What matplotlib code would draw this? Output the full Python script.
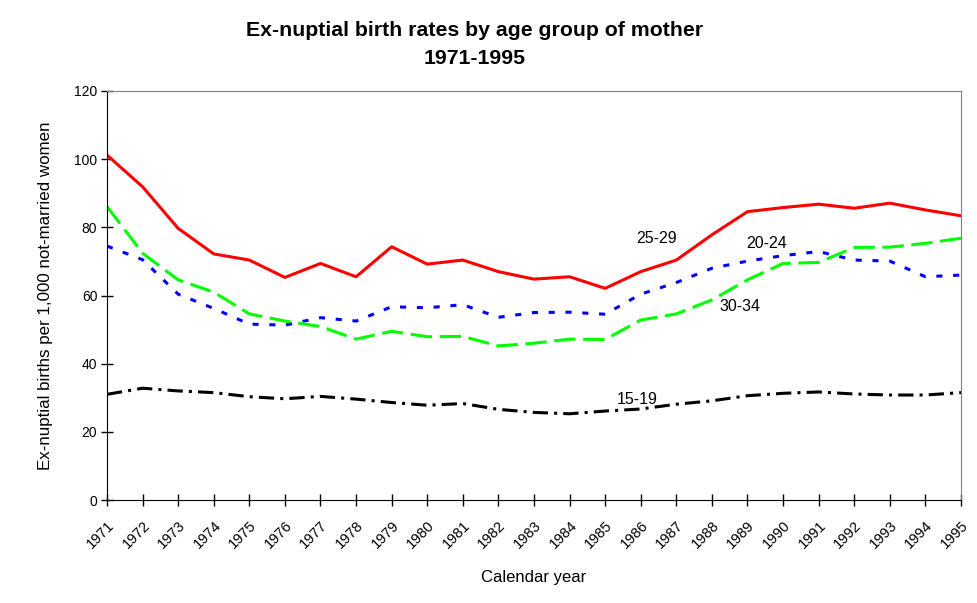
import matplotlib
matplotlib.use("Agg")
import matplotlib.pyplot as plt

plt.rcParams['font.family'] = ['Liberation Sans', 'DejaVu Sans']

years = list(range(1971, 1996))
age_15_19 = [31.0, 32.8, 32.0, 31.5, 30.3, 29.7, 30.4, 29.6, 28.6, 27.8, 28.3, 26.6, 25.7,
             25.3, 26.1, 26.7, 28.1, 29.1, 30.6, 31.3, 31.7, 31.1, 30.8, 30.8, 31.5]
age_20_24 = [74.5, 70.5, 60.4, 56.2, 51.6, 51.3, 53.5, 52.5, 56.7, 56.4, 57.3, 53.6, 55.0,
             55.1, 54.5, 60.4, 63.8, 68.0, 70.1, 71.7, 72.9, 70.4, 70.1, 65.5, 66.0]
age_25_29 = [101.2, 91.9, 79.7, 72.2, 70.4, 65.3, 69.4, 65.5, 74.3, 69.2, 70.4, 67.0, 64.8,
             65.5, 62.1, 67.0, 70.4, 77.8, 84.6, 85.8, 86.8, 85.6, 87.1, 85.1, 83.4]
age_30_34 = [86.1, 72.4, 64.6, 61.0, 54.6, 52.5, 50.9, 47.2, 49.5, 47.9, 48.0, 45.2, 46.0,
             47.2, 47.1, 52.8, 54.6, 58.7, 64.6, 69.4, 69.7, 74.1, 74.2, 75.3, 76.8]
year_labels = [str(y) for y in years]
yticks = [0, 20, 40, 60, 80, 100, 120]

fig = plt.figure(figsize=(9.77, 6.03), dpi=100)
ax = fig.add_axes([107/977, 103/603, (961-107)/977, (500-91)/603])

ax.plot(years, age_15_19, color='black', lw=2.2, linestyle=(0, (5, 2, 1, 2)))
ax.plot(years, age_20_24, color='#0000FF', lw=2.2, linestyle=(0, (2, 3.5)))
ax.plot(years, age_25_29, color='#FF0000', lw=2.2, linestyle='-')
ax.plot(years, age_30_34, color='#00FF00', lw=2.2, linestyle=(0, (7, 2.5)))

ax.set_xlim(years[0], years[-1])
ax.set_ylim(0, 120)
ax.set_yticks(yticks)
ax.set_yticklabels([str(v) for v in yticks], fontsize=10)
ax.set_xticks(years)
ax.set_xticklabels(year_labels, rotation=45, ha='right', va='top', fontsize=10.5,
                   rotation_mode='anchor')
ax.tick_params(axis='x', direction='inout', length=8, width=1, pad=9)
ax.tick_params(axis='y', direction='inout', length=8, width=1, pad=3)

for s in ['top', 'right']:
    ax.spines[s].set_color('#808080')
for s in ['left', 'bottom']:
    ax.spines[s].set_color('black')

ax.text(1986.45, 76.7, '25-29', fontsize=11.5, ha='center', va='center')
ax.text(1989.55, 75.4, '20-24', fontsize=11.5, ha='center', va='center')
ax.text(1988.8, 56.9, '30-34', fontsize=11.5, ha='center', va='center')
ax.text(1985.9, 29.6, '15-19', fontsize=11.5, ha='center', va='center')

ax.set_xlabel('Calendar year', fontsize=12)
ax.xaxis.set_label_coords(0.5, -0.17)
ax.set_ylabel('Ex-nuptial births per 1,000 not-married women', fontsize=12.2)
ax.yaxis.set_label_coords(-0.063, 0.5)

fig.text(475/977, 1 - 31/603, 'Ex-nuptial birth rates by age group of mother',
         fontsize=15.3, fontweight='bold', ha='center', va='center')
fig.text(475/977, 1 - 59/603, '1971-1995',
         fontsize=15.3, fontweight='bold', ha='center', va='center')

fig.savefig('out.png', dpi=100)
